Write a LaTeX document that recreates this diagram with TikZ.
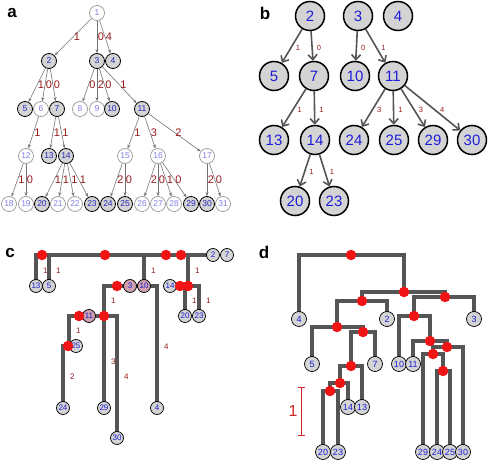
\documentclass[tikz,border=0pt]{standalone}
\usepackage{fontspec}
\setmainfont{Liberation Sans}
\usetikzlibrary{arrows.meta}
\pgfdeclarelayer{bg}
\pgfsetlayers{bg,main}
\definecolor{dred}{RGB}{150,25,25}
\definecolor{nblue}{RGB}{30,30,215}
\definecolor{ablue}{RGB}{40,40,190}
\definecolor{lblue}{RGB}{130,130,230}
\definecolor{nfill}{RGB}{212,212,212}
\definecolor{lgray}{RGB}{85,85,85}
\definecolor{pinkfill}{RGB}{205,160,172}
\definecolor{rdot}{RGB}{240,20,20}
\definecolor{sbred}{RGB}{210,35,35}
\begin{document}
\begin{tikzpicture}[x=1pt,y=-1pt,
  plab/.style={font=\bfseries\fontsize{17}{17}\selectfont},
  af/.style={circle,draw=black,line width=0.8pt,fill=nfill,minimum size=15pt,inner sep=0pt,text=ablue,font=\fontsize{8.5}{9}\selectfont},
  au/.style={circle,draw=gray!80,line width=0.7pt,fill=white,minimum size=15pt,inner sep=0pt,text=lblue,font=\fontsize{8.5}{9}\selectfont},
  aed/.style={draw=gray!90!black,line width=0.6pt,-{Stealth[length=4pt,width=3pt]}},
  ael/.style={text=dred,font=\fontsize{11}{11}\selectfont,inner sep=0pt,right=0.5pt},
  bn/.style={circle,draw=black,line width=1.5pt,fill=nfill,minimum size=29pt,inner sep=0pt,text=nblue,font=\fontsize{15}{15}\selectfont},
  bed/.style={draw=lgray,line width=1.6pt,-{Straight Barb[length=5pt,width=9pt]}},
  bel/.style={text=dred,font=\fontsize{7.5}{8}\selectfont,inner sep=0pt,right=4pt,pos=0.55},
  cn/.style={circle,draw=black,line width=0.7pt,fill=nfill,minimum size=13pt,inner sep=0pt,text=nblue,font=\fontsize{8}{8}\selectfont},
  dn/.style={cn,minimum size=15pt,font=\fontsize{9}{9}\selectfont},
  cl/.style={draw=lgray,line width=3.2pt,line cap=rect},
  cla/.style={text=dred,font=\fontsize{8}{8}\selectfont,inner sep=0pt,right=5.5pt},
  rd/.style={circle,fill=rdot,minimum size=10.5pt,inner sep=0pt}
]
\useasboundingbox (0,0) rectangle (490,462);

% ================= panel a =================
\node[plab] (la) at (12,13) {a};
\node[au] (a1) at (97,13) {1};
\node[af] (a2) at (49,61) {2};
\node[af] (a3) at (97,61) {3};
\node[af] (a4) at (113,61) {4};
\node[af] (a5) at (25,109) {5};
\node[au] (a6) at (41,109) {6};
\node[af] (a7) at (57,109) {7};
\node[au] (a8) at (80,109) {8};
\node[au] (a9) at (97,109) {9};
\node[af] (a10) at (112,109) {10};
\node[af] (a11) at (142,109) {11};
\node[au] (a12) at (26,156) {12};
\node[af] (a13) at (49,156) {13};
\node[af] (a14) at (66,156) {14};
\node[au] (a15) at (125,156) {15};
\node[au] (a16) at (158,156) {16};
\node[au] (a17) at (207,156) {17};
\node[au] (a18) at (9,204) {18};
\node[au] (a19) at (26,204) {19};
\node[af] (a20) at (42,204) {20};
\node[au] (a21) at (58,204) {21};
\node[au] (a22) at (75,204) {22};
\node[af] (a23) at (92,204) {23};
\node[af] (a24) at (108,204) {24};
\node[af] (a25) at (125,204) {25};
\node[au] (a26) at (142,204) {26};
\node[au] (a27) at (158,204) {27};
\node[au] (a28) at (174,204) {28};
\node[af] (a29) at (191,204) {29};
\node[af] (a30) at (207,204) {30};
\node[au] (a31) at (223,204) {31};

\draw[aed] (a1) -- node[ael]{1} (a2);
\draw[aed] (a1) -- node[ael]{0} (a3);
\draw[aed] (a1) -- node[ael]{4} (a4);
\draw[aed] (a2) -- node[ael]{1} (a5);
\draw[aed] (a2) -- node[ael]{0} (a6);
\draw[aed] (a2) -- node[ael]{0} (a7);
\draw[aed] (a3) -- node[ael]{0} (a8);
\draw[aed] (a3) -- node[ael]{2} (a9);
\draw[aed] (a3) -- node[ael]{0} (a10);
\draw[aed] (a3) -- node[ael]{1} (a11);
\draw[aed] (a6) -- node[ael]{1} (a12);
\draw[aed] (a7) -- node[ael]{1} (a13);
\draw[aed] (a7) -- node[ael]{1} (a14);
\draw[aed] (a11) -- node[ael]{1} (a15);
\draw[aed] (a11) -- node[ael]{3} (a16);
\draw[aed] (a11) -- node[ael]{2} (a17);
\draw[aed] (a12) -- node[ael]{1} (a18);
\draw[aed] (a12) -- node[ael]{0} (a19);
\draw[aed] (a14) -- node[ael]{1} (a20);
\draw[aed] (a14) -- node[ael]{1} (a21);
\draw[aed] (a14) -- node[ael]{1} (a22);
\draw[aed] (a14) -- node[ael]{1} (a23);
\draw[aed] (a15) -- node[ael]{2} (a24);
\draw[aed] (a15) -- node[ael]{0} (a25);
\draw[aed] (a16) -- node[ael]{2} (a26);
\draw[aed] (a16) -- node[ael]{0} (a27);
\draw[aed] (a16) -- node[ael]{1} (a28);
\draw[aed] (a16) -- node[ael]{0} (a29);
\draw[aed] (a17) -- node[ael]{2} (a30);
\draw[aed] (a17) -- node[ael]{0} (a31);

% ================= panel b =================
\node[plab] (lb) at (265,13) {b};
\node[bn] (b2) at (310,16) {2};
\node[bn] (b3) at (358,16) {3};
\node[bn] (b4) at (398,16) {4};
\node[bn] (b5) at (274,76) {5};
\node[bn] (b7) at (314,76) {7};
\node[bn] (b10) at (355,76) {10};
\node[bn] (b11) at (393,76) {11};
\node[bn] (b13) at (274,140) {13};
\node[bn] (b14) at (315,140) {14};
\node[bn] (b24) at (354,140) {24};
\node[bn] (b25) at (394,140) {25};
\node[bn] (b29) at (433,140) {29};
\node[bn] (b30) at (472,140) {30};
\node[bn] (b20) at (295,201) {20};
\node[bn] (b23) at (334,201) {23};

\draw[bed] (b2) -- node[bel]{1} (b5);
\draw[bed] (b2) -- node[bel]{0} (b7);
\draw[bed] (b3) -- node[bel]{0} (b10);
\draw[bed] (b3) -- node[bel]{1} (b11);
\draw[bed] (b7) -- node[bel]{1} (b13);
\draw[bed] (b7) -- node[bel]{1} (b14);
\draw[bed] (b11) -- node[bel]{3} (b24);
\draw[bed] (b11) -- node[bel]{1} (b25);
\draw[bed] (b11) -- node[bel]{3} (b29);
\draw[bed] (b11) -- node[bel]{4} (b30);
\draw[bed] (b14) -- node[bel]{1} (b20);
\draw[bed] (b14) -- node[bel]{1} (b23);

% ================= panel c =================
\node[plab] (lc) at (10,253) {c};
\node[cn] (c2) at (213,255) {2};
\node[cn] (c7) at (227,255) {7};
\node[cn] (c13) at (36,286) {13};
\node[cn] (c5) at (49,286) {5};
\node[cn,fill=pinkfill] (c3) at (130,286) {3};
\node[cn,fill=pinkfill] (c10) at (144,286) {10};
\node[cn] (c14) at (170,286) {14};
\node[cn] (c20) at (185,316) {20};
\node[cn] (c23) at (199,316) {23};
\node[cn,fill=pinkfill] (c11) at (89,316) {11};
\node[cn] (c25) at (76,346) {25};
\node[cn] (c24) at (63,408) {24};
\node[cn] (c29) at (104,408) {29};
\node[cn] (c30) at (117,438) {30};
\node[cn] (c4) at (157,408) {4};

\coordinate (cj1) at (49,255);
\coordinate (cj2) at (144,255);
\coordinate (cj3) at (188,255);
\coordinate (cj4) at (199,286);
\coordinate (cj5) at (188,286);
\coordinate (cj6) at (104,286);
\coordinate (cj7) at (185,286);
\coordinate (cj8) at (104,316);
\coordinate (cj9) at (69,316);
\coordinate (cj10) at (69,346);

\node[rd] (cr1) at (42,255) {};
\node[rd] (cr2) at (105,255) {};
\node[rd] (cr3) at (166,255) {};
\node[rd] (cr4) at (181,255) {};
\node[rd] (cr5) at (180,286) {};
\node[rd] (cr6) at (188,286) {};
\node[rd] (cr7) at (117,286) {};
\node[rd] (cr8) at (79,316) {};
\node[rd] (cr9) at (104,316) {};
\node[rd] (cr10) at (68,346) {};

\begin{pgfonlayer}{bg}
\draw[cl] (c13.center) |- node[cla,pos=0.25]{1} (c2.center);
\draw[cl] (cj1) -- node[cla]{1} (c5.center);
\draw[cl] (cj2) -- node[cla]{1} (c10.center);
\draw[cl] (cj3) -- node[cla]{1} (cj5);
\draw[cl] (c14.center) -- (cj4);
\draw[cl] (cj7) -- node[cla]{1} (c20.center);
\draw[cl] (cj4) -- node[cla]{1} (c23.center);
\draw[cl] (c4.center) |- node[cla,pos=0.25]{4} (cj6) -- node[cla]{1} (cj8);
\draw[cl] (c30.center) |- node[cla,pos=0.25]{4} (cj9) -- node[cla]{1} (cj10);
\draw[cl] (c29.center) -- node[cla]{3} (cj8);
\draw[cl] (c24.center) |- node[cla,pos=0.25]{2} (c25.center);
\end{pgfonlayer}

% ================= panel d =================
\node[plab] (ld) at (264,252) {d};
\node[dn] (d4) at (299,319) {4};
\node[dn] (d2) at (387,319) {2};
\node[dn] (d3) at (474,319) {3};
\node[dn] (d5) at (312,364) {5};
\node[dn] (d7) at (375,364) {7};
\node[dn] (d10) at (399,364) {10};
\node[dn] (d11) at (413,364) {11};
\node[dn] (d14) at (348,407) {14};
\node[dn] (d13) at (362,407) {13};
\node[dn] (d20) at (323,452) {20};
\node[dn] (d23) at (338,452) {23};
\node[dn] (d29) at (423,452) {29};
\node[dn] (d24) at (437,452) {24};
\node[dn] (d25) at (450,452) {25};
\node[dn] (d30) at (463,452) {30};

\node[rd] (dR) at (351,255) {};
\node[rd] (dA) at (404,292) {};
\node[rd] (dB) at (362,301) {};
\node[rd] (dE) at (337,327) {};
\node[rd] (dF) at (363,332) {};
\node[rd] (dG) at (351,366) {};
\node[rd] (dH) at (340,383) {};
\node[rd] (dI) at (330,391) {};
\node[rd] (dC) at (445,297) {};
\node[rd] (dD) at (414,316) {};
\node[rd] (dJ) at (430,341) {};
\node[rd] (dK) at (447,347) {};
\node[rd] (dL) at (433,354) {};
\node[rd] (dM) at (443,371) {};

\begin{pgfonlayer}{bg}
\draw[cl] (d4.center) |- (dR.center) -| (dA.center);
\draw[cl] (dB.center) |- (dA.center) -| (dC.center);
\draw[cl] (dE.center) |- (dB.center) -| (d2.center);
\draw[cl] (d5.center) |- (dE.center) -| (dF.center);
\draw[cl] (dG.center) |- (dF.center) -| (d7.center);
\draw[cl] (dH.center) |- (dG.center) -| (d13.center);
\draw[cl] (dI.center) |- (dH.center) -| (d14.center);
\draw[cl] (d20.center) |- (dI.center) -| (d23.center);
\draw[cl] (dD.center) |- (dC.center) -| (d3.center);
\draw[cl] (d10.center) |- (dD.center) -| (dJ.center);
\draw[cl] (d11.center) |- (dJ.center) -| (dK.center);
\draw[cl] (dL.center) |- (dK.center) -| (d30.center);
\draw[cl] (d29.center) |- (dL.center) -| (dM.center);
\draw[cl] (d24.center) |- (dM.center) -| (d25.center);
\end{pgfonlayer}

% scale bar
\coordinate (sbT) at (301,387);
\coordinate (sbB) at (301,435);
\draw[sbred,line width=0.9pt] (sbT) -- (sbB);
\draw[sbred,line width=0.9pt] ([xshift=-3.5pt]sbT) -- ([xshift=3.5pt]sbT);
\draw[sbred,line width=0.9pt] ([xshift=-3.5pt]sbB) -- ([xshift=3.5pt]sbB);
\node[text=sbred,font=\fontsize{16}{16}\selectfont] (sbl) at (293,411) {1};
\end{tikzpicture}
\end{document}
